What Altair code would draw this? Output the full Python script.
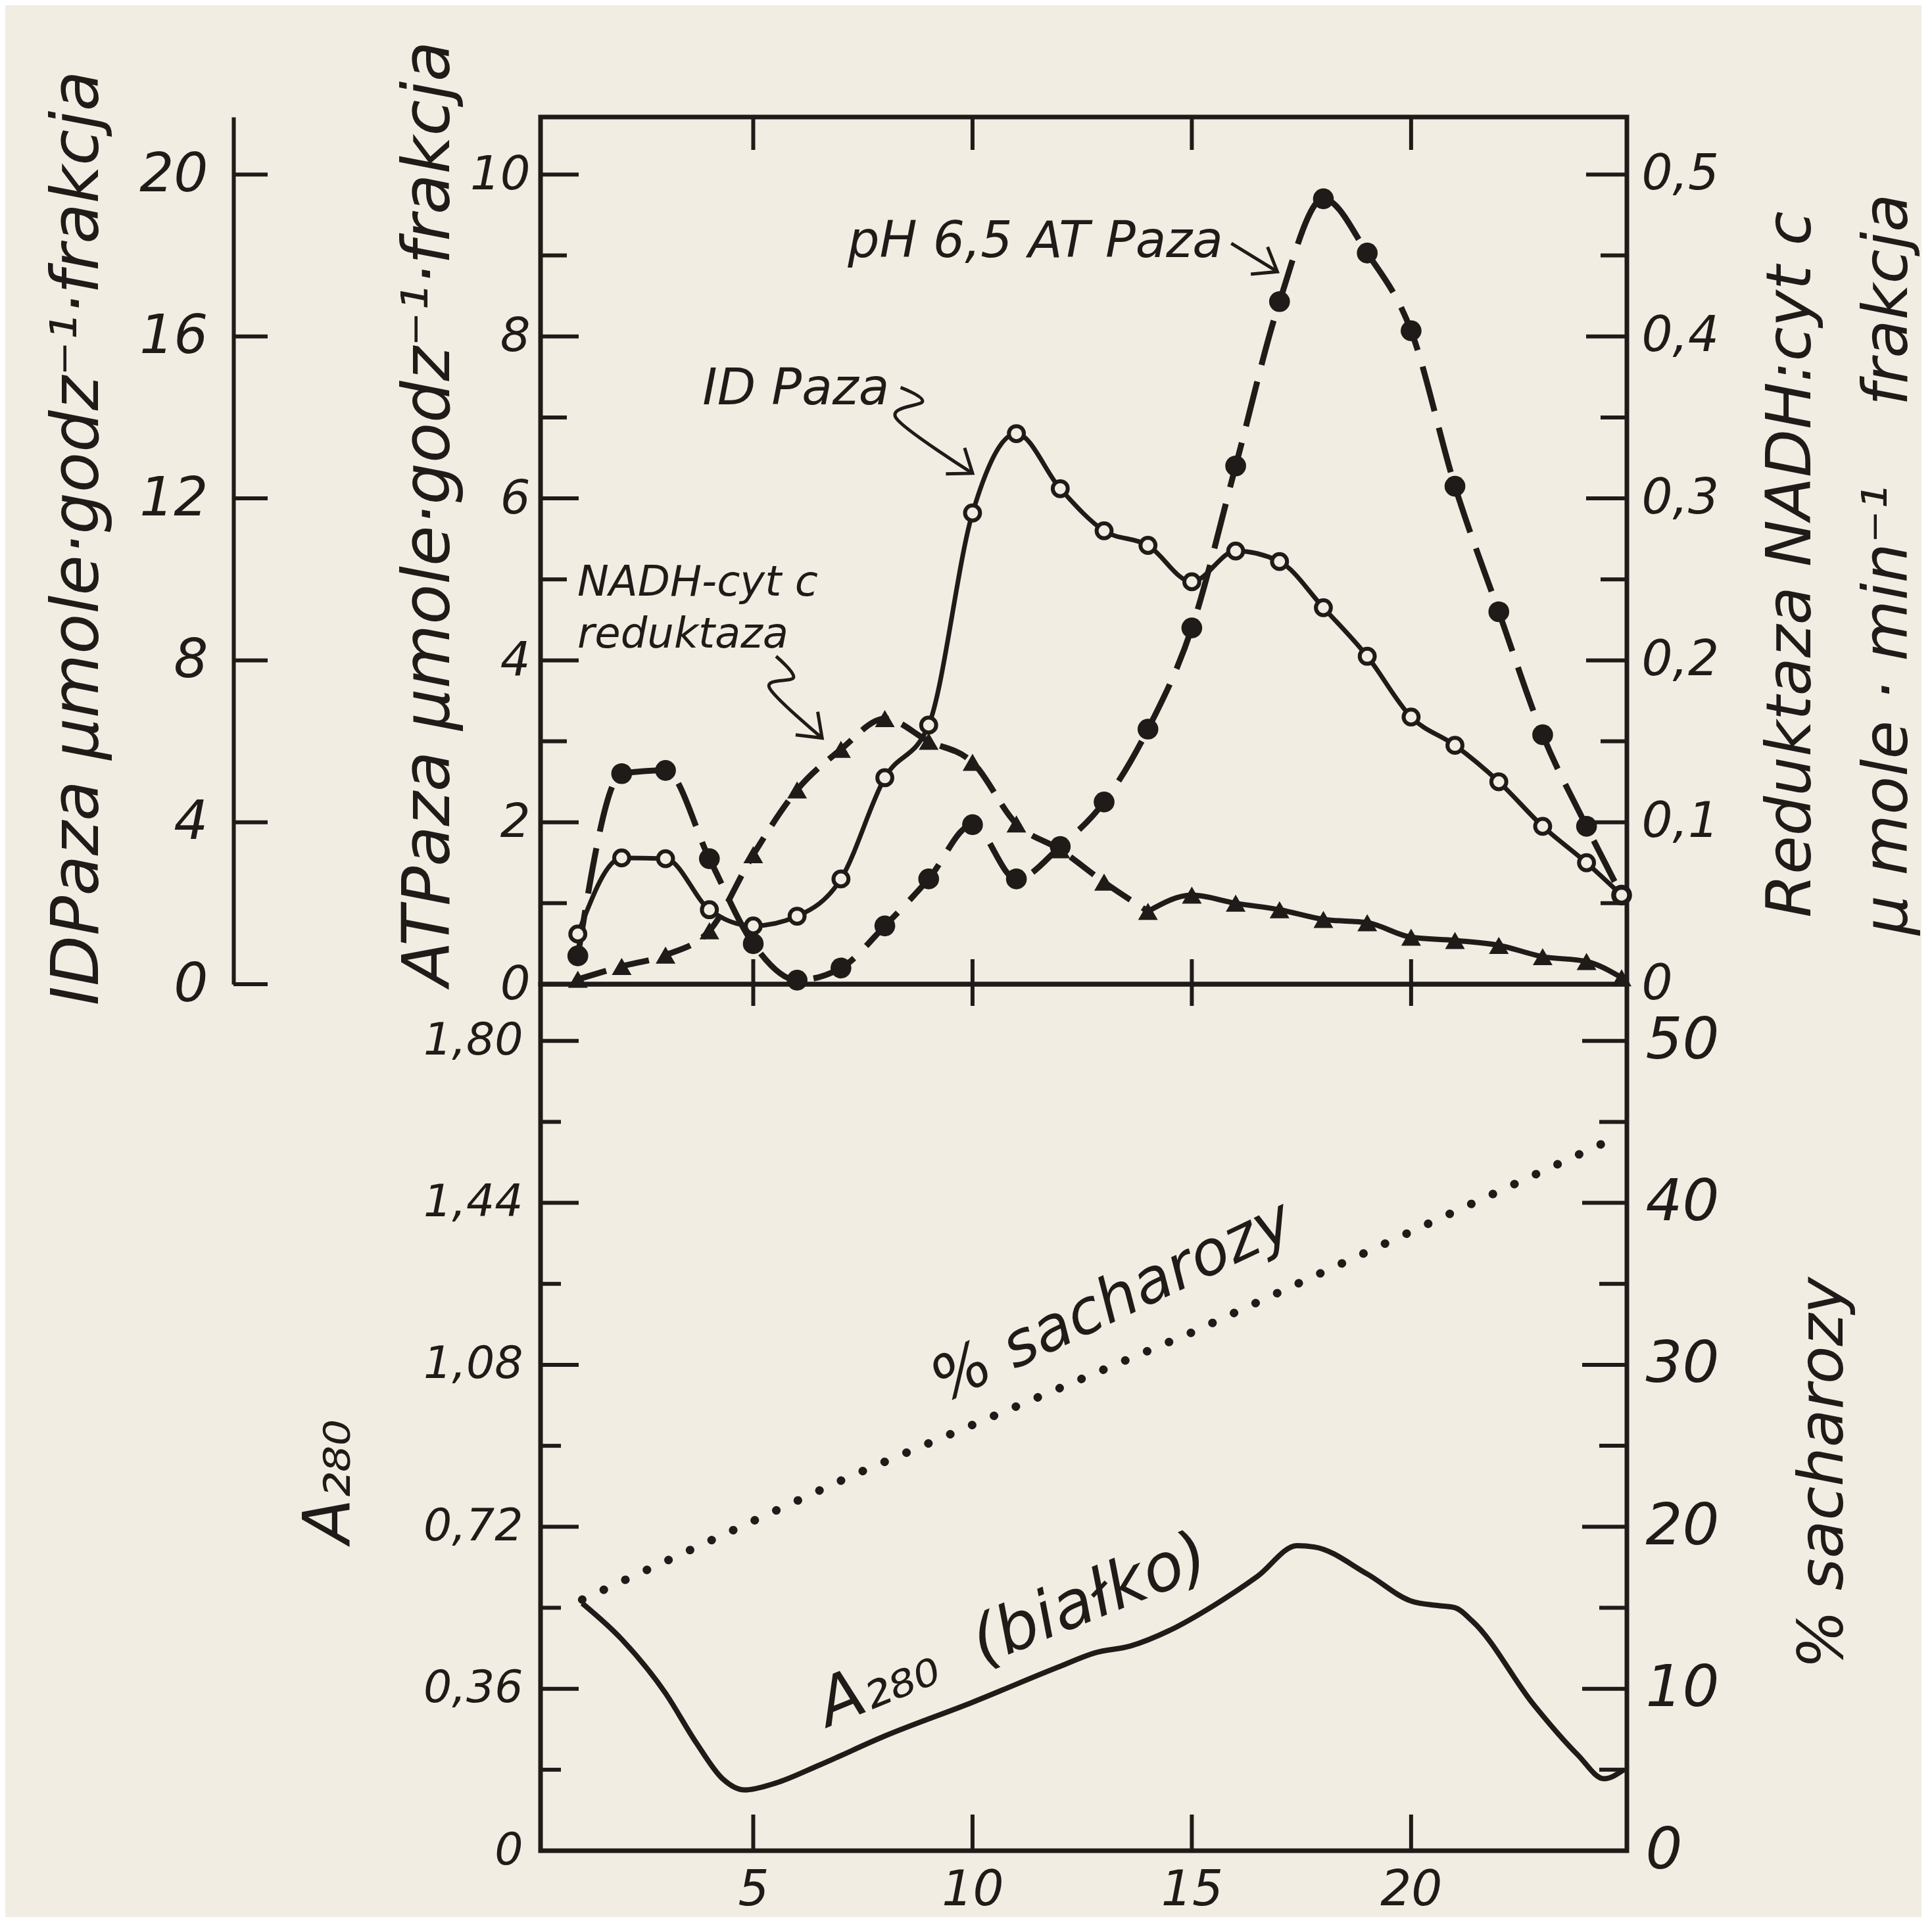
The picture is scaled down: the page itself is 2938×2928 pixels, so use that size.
import math
import altair as alt
import pandas as pd

INK = "#1f1b18"
PAPER = "#f1ede2"
FONT = "DejaVu Sans"

# ---------------- data ----------------
frakcja = [1, 2, 3, 4, 5, 6, 7, 8, 9, 10, 11, 12, 13, 14, 15, 16, 17, 18, 19, 20, 21, 22, 23, 24, 24.8]
atpaza_ph65 = [0.35, 2.6, 2.64, 1.55, 0.5, 0.05, 0.2, 0.72, 1.3, 1.97, 1.3, 1.7, 2.25, 3.15, 4.4,
               6.4, 8.43, 9.7, 9.03, 8.07, 6.15, 4.6, 3.08, 1.95, 1.1]
idpaza = [1.24, 3.12, 3.1, 1.84, 1.44, 1.68, 2.6, 5.1, 6.4, 11.64, 13.6, 12.24, 11.2, 10.84, 9.94,
          10.7, 10.44, 9.3, 8.1, 6.6, 5.9, 5.0, 3.9, 3.0, 2.2]
nadh_reduktaza = [0.003, 0.011, 0.018, 0.033, 0.08, 0.12, 0.145, 0.164, 0.15, 0.137, 0.099, 0.083,
                  0.063, 0.045, 0.055, 0.05, 0.046, 0.04, 0.038, 0.029, 0.027, 0.024, 0.017, 0.014, 0.004]

a280_frakcja = [1.1, 2.0, 3.0, 3.7, 4.3, 4.8, 5.5, 6.5, 8.0, 10.0, 12.0, 12.8, 13.6, 14.5, 15.5, 16.5,
                17.4, 17.8, 19.0, 20.0, 20.6, 21.0, 21.4, 22.8, 23.8, 24.4, 24.85]
a280 = [0.55, 0.47, 0.35, 0.24, 0.16, 0.135, 0.15, 0.19, 0.255, 0.33, 0.41, 0.44, 0.455, 0.49, 0.545,
        0.61, 0.678, 0.675, 0.615, 0.555, 0.545, 0.54, 0.51, 0.324, 0.213, 0.16, 0.18]
sacharoza_frakcja = [1.1, 7.2, 15.0, 24.8]
sacharoza = [15.5, 23.1, 32.0, 44.2]

atp_labels = [0, 2, 4, 6, 8, 10]
atp_minor = [1, 3, 5, 7, 9]
id_labels = [0, 4, 8, 12, 16, 20]
nadh_labels = [0, 0.1, 0.2, 0.3, 0.4, 0.5]
nadh_minor = [0.05, 0.15, 0.25, 0.35, 0.45]
a280_labels = [0, 0.36, 0.72, 1.08, 1.44, 1.80]
a280_minor = [0.18, 0.54, 0.90, 1.26, 1.62]
sach_labels = [0, 10, 20, 30, 40, 50]
sach_minor = [5, 15, 25, 35, 45]
x_labels = [5, 10, 15, 20]

# annotation anchors (data coordinates, ATPaza scale in the upper panel)
arrow_id = ["ph", "ph", "id", "id", "id", "id", "nadh", "nadh", "nadh", "nadh"]
arrow_x = [15.9, 16.95, 8.36, 8.86, 8.26, 10.0, 5.52, 5.92, 5.37, 6.57]
arrow_y = [9.15, 8.8, 7.37, 7.2, 6.99, 6.31, 4.05, 3.79, 3.66, 3.04]
label_right_text = ["pH 6,5 AT Paza", "ID Paza"]
label_right_x = [15.71, 8.1]
label_right_y = [8.98, 7.16]
label_left_text = ["NADH-cyt c", "reduktaza"]
label_left_x = [0.99, 0.99]
label_left_y = [4.80, 4.16]

# ---------------- layout ----------------
W, H1, H2 = 1652, 1319, 1318
XDOM = [0.15, 24.92]
ATP_DOM = [0, 10.71]
ID_DOM = [0, 21.42]
NADH_DOM = [0, 0.5355]
A_DOM = [0, 1.926]
S_DOM = [0, 53.5]


def sx(axis=None):
    return alt.X("x:Q", scale=alt.Scale(domain=XDOM, nice=False, zero=False), axis=axis)


def sy(dom, axis=None, field="y"):
    return alt.Y(f"{field}:Q", scale=alt.Scale(domain=dom, nice=False, zero=False), axis=axis)


def hticks(vals, dom, x1, x2):
    return alt.Chart(pd.DataFrame({"y": vals})).mark_rule(color=INK, strokeWidth=6).encode(
        y=sy(dom), x=alt.value(x1), x2=alt.value(x2))


def vticks(vals, y1, y2, axis=None):
    return alt.Chart(pd.DataFrame({"x": vals})).mark_rule(color=INK, strokeWidth=6).encode(
        x=sx(axis), y=alt.value(y1), y2=alt.value(y2))


comma1 = "datum.value == 0 ? '0' : replace(format(datum.value, '.1f'), '.', ',')"
comma2 = "datum.value == 0 ? '0' : replace(format(datum.value, '.2f'), '.', ',')"

atp_axis = alt.Axis(orient="left", values=atp_labels, format="d", labelFontSize=72, labelPadding=16,
                    title="ATPaza μmole·godz⁻¹·frakcja", titleFontSize=100, titleAngle=270,
                    titleX=-170, titleY=603, titleAlign="center", titleBaseline="middle")
id_axis = alt.Axis(orient="left", offset=467, domain=True, domainColor=INK, domainWidth=6,
                   values=id_labels, format="d", labelFontSize=82, labelPadding=39,
                   title="IDPaza μmole·godz⁻¹·frakcja", titleFontSize=100, titleAngle=270,
                   titleX=-237, titleY=640, titleAlign="center", titleBaseline="middle")
nadh_axis = alt.Axis(orient="right", values=nadh_labels, labelExpr=comma1, labelFontSize=74,
                     labelPadding=22,
                     title=["Reduktaza NADH:cyt c", "μ mole · min⁻¹\u00a0\u00a0\u00a0 frakcja"],
                     titleFontSize=95, titleAngle=270, titleX=249, titleY=680, titleLineHeight=147,
                     titleAlign="center", titleBaseline="middle")

ph_df = pd.DataFrame({"x": frakcja, "y": atpaza_ph65})
id_df = pd.DataFrame({"x": frakcja, "y": idpaza})
nadh_df = pd.DataFrame({"x": frakcja, "y": nadh_reduktaza})
nadh_dash_df = nadh_df.iloc[:14]
nadh_solid_df = nadh_df.iloc[13:]

ph_line = alt.Chart(ph_df).mark_line(color=INK, strokeWidth=9, strokeDash=[70, 26],
                                     interpolate="monotone").encode(x=sx(), y=sy(ATP_DOM, atp_axis))
ph_pts = alt.Chart(ph_df).mark_circle(color=INK, opacity=1, size=1000).encode(x=sx(), y=sy(ATP_DOM))

id_line = alt.Chart(id_df).mark_line(color=INK, strokeWidth=7, interpolate="monotone").encode(
    x=sx(), y=sy(ID_DOM, id_axis))
id_pts = alt.Chart(id_df).mark_point(shape="circle", filled=True, fill=PAPER, stroke=INK,
                                     strokeWidth=6, size=520, opacity=1).encode(x=sx(), y=sy(ID_DOM))

nadh_dash = alt.Chart(nadh_dash_df).mark_line(color=INK, strokeWidth=9, strokeDash=[45, 22],
                                              interpolate="monotone").encode(
    x=sx(), y=sy(NADH_DOM, nadh_axis))
nadh_solid = alt.Chart(nadh_solid_df).mark_line(color=INK, strokeWidth=8, interpolate="monotone").encode(
    x=sx(), y=sy(NADH_DOM))
nadh_pts = alt.Chart(nadh_df).mark_point(shape="triangle-up", filled=True, color=INK, size=900,
                                         opacity=1).encode(x=sx(), y=sy(NADH_DOM))

# arrows
arrow_df = pd.DataFrame({"x": arrow_x, "y": arrow_y, "g": arrow_id, "o": list(range(len(arrow_x)))})
arrow_lines = alt.Chart(arrow_df).mark_line(color=INK, strokeWidth=5, interpolate="cardinal").encode(
    x=sx(), y=sy(ATP_DOM), detail="g:N", order=alt.Order("o:Q"))

px_x = W / (XDOM[1] - XDOM[0])
px_y = H1 / (ATP_DOM[1] - ATP_DOM[0])
heads = []
for gname in ["ph", "id", "nadh"]:
    pts = [(x, y) for g, x, y in zip(arrow_id, arrow_x, arrow_y) if g == gname]
    (x1, y1), (x2, y2) = pts[-2], pts[-1]
    ang = math.degrees(math.atan2(-(y2 - y1) * px_y, (x2 - x1) * px_x)) % 360
    heads.append({"x": x2, "y": y2, "a": ang})
head_df = pd.DataFrame(heads)
arrow_heads = alt.Chart(head_df).mark_point(shape="M -1 -0.75 L 0 0 L -1 0.75", filled=False,
                                            color=INK, strokeWidth=5, size=4200, opacity=1).encode(
    x=sx(), y=sy(ATP_DOM), angle=alt.Angle("a:Q", scale=None))

txt_right = alt.Chart(pd.DataFrame({"x": label_right_x, "y": label_right_y, "t": label_right_text})
                      ).mark_text(font=FONT, fontStyle="italic", fontSize=76, color=INK, align="right",
                                  baseline="alphabetic").encode(x=sx(), y=sy(ATP_DOM), text="t:N")
txt_left = alt.Chart(pd.DataFrame({"x": label_left_x, "y": label_left_y, "t": label_left_text})
                     ).mark_text(font=FONT, fontStyle="italic", fontSize=64, color=INK, align="left",
                                 baseline="alphabetic").encode(x=sx(), y=sy(ATP_DOM), text="t:N")

top = alt.layer(
    ph_line, ph_pts, id_line, id_pts, nadh_dash, nadh_solid, nadh_pts,
    arrow_lines, arrow_heads, txt_right, txt_left,
    hticks(atp_labels[1:], ATP_DOM, 0, 58),
    hticks(atp_minor, ATP_DOM, 0, 40),
    hticks(id_labels, ID_DOM, -467, -467 + 52),
    hticks(nadh_labels[1:], NADH_DOM, W, W - 62),
    hticks(nadh_minor, NADH_DOM, W, W - 40),
    vticks(x_labels, 0, 50),
    vticks(x_labels, H1 - 38, H1 + 33),
).resolve_scale(y="independent").properties(width=W, height=H1)

# ---------------- lower panel ----------------
a_axis = alt.Axis(orient="left", values=a280_labels, labelExpr=comma2, labelFontSize=68, labelPadding=27,
                  title="A₂₈₀", titleFontSize=100, titleAngle=270, titleX=-321, titleY=756,
                  titleAlign="center", titleBaseline="middle")
s_axis = alt.Axis(orient="right", values=sach_labels, format="d", labelFontSize=88, labelPadding=28,
                  title="% sacharozy", titleFontSize=94, titleAngle=270, titleX=299, titleY=743,
                  titleAlign="center", titleBaseline="middle")
x_axis = alt.Axis(orient="bottom", values=x_labels, labelFontSize=74, labelPadding=24, title="")

a_df = pd.DataFrame({"x": a280_frakcja, "y": a280})
s_df = pd.DataFrame({"x": sacharoza_frakcja, "y": sacharoza})

a_line = alt.Chart(a_df).mark_line(color=INK, strokeWidth=8, interpolate="monotone").encode(
    x=sx(x_axis), y=sy(A_DOM, a_axis))
s_line = alt.Chart(s_df).mark_line(color=INK, strokeWidth=13, strokeDash=[0.1, 36],
                                   strokeCap="round").encode(x=sx(x_axis), y=sy(S_DOM, s_axis))

s_text = alt.Chart(pd.DataFrame({"x": [13.19], "y": [1.219], "t": ["% sacharozy"]})).mark_text(
    font=FONT, fontStyle="italic", fontSize=94, color=INK, angle=334.5, align="center",
    baseline="middle").encode(x=sx(x_axis), y=sy(A_DOM), text="t:N")
a_text = alt.Chart(pd.DataFrame({"x": [10.93], "y": [0.488], "t": ["A₂₈₀ \u00a0(białko)"]})).mark_text(
    font=FONT, fontStyle="italic", fontSize=100, color=INK, angle=338, align="center",
    baseline="middle").encode(x=sx(x_axis), y=sy(A_DOM), text="t:N")

bottom = alt.layer(
    a_line, s_line, s_text, a_text,
    hticks(a280_labels[1:], A_DOM, 0, 58),
    hticks(a280_minor, A_DOM, 0, 31),
    hticks(sach_labels[1:], S_DOM, W, W - 68),
    hticks(sach_minor, S_DOM, W, W - 42),
    vticks(x_labels, H2, H2 - 55, x_axis),
).resolve_scale(y="independent").properties(width=W, height=H2)

chart = alt.vconcat(top, bottom, spacing=0, bounds="flush").properties(
    padding={"left": 56, "top": 50, "right": 0, "bottom": 0},
    background=PAPER,
).configure_view(stroke=INK, strokeWidth=7).configure_axis(
    labelFont=FONT, labelFontStyle="italic", labelColor=INK,
    titleFont=FONT, titleFontStyle="italic", titleFontWeight="normal", titleColor=INK,
    grid=False, ticks=False, domain=False,
)

chart.save("out.html", embed_options={"renderer": "svg", "actions": False})
